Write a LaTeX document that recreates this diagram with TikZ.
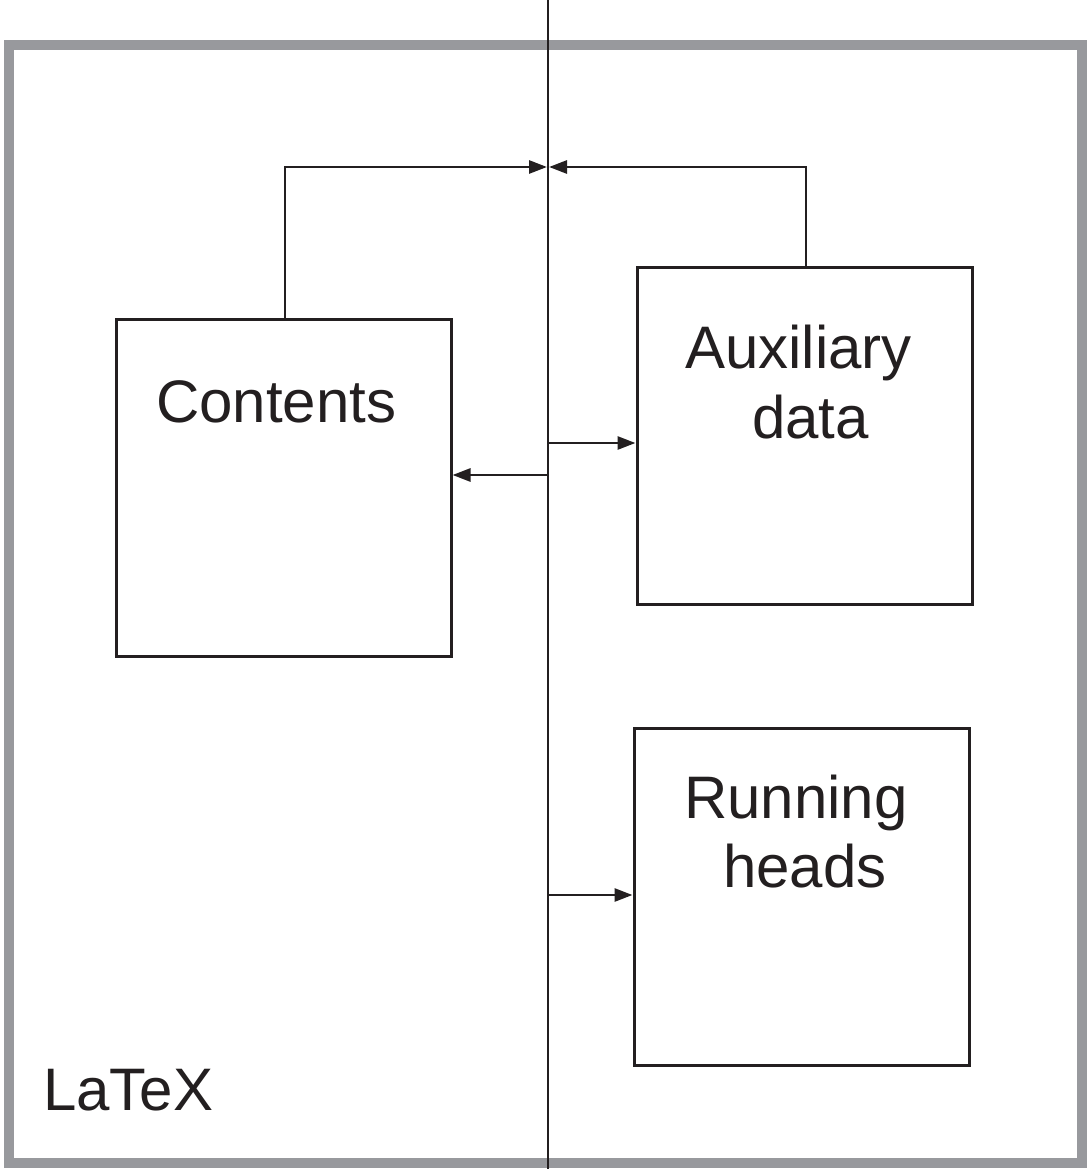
\documentclass[tikz,border=0pt]{standalone}
\usepackage{fontspec}
\setmainfont{Liberation Sans}
\usetikzlibrary{arrows.meta}
\definecolor{framegray}{RGB}{152,153,157}
\definecolor{ink}{RGB}{35,31,32}
\begin{document}
\begin{tikzpicture}[x=1pt,y=-1pt,
  boxnode/.style={draw=ink,line width=3pt,minimum width=335pt,minimum height=337pt,inner sep=0pt},
  lbl/.style={anchor=base west,inner sep=0pt,text=ink,font=\fontsize{60}{72}\selectfont},
  conn/.style={draw=ink,line width=2.8pt},
  arr/.style={conn,-{Triangle[length=18pt,width=13pt]}}]
\useasboundingbox (0,0) rectangle (1087,1169);
% outer frame
\draw[framegray,line width=10pt] (9,45) rectangle (1082,1163);
% vertical line
\coordinate (vtop) at (548,0);
\coordinate (vbot) at (548,1169);
\draw[conn] (vtop) -- (vbot);
% boxes
\node[boxnode] (contents) at (283.5,487.5) {};
\node[boxnode] (aux) at (804.5,435.5) {};
\node[boxnode] (run) at (801.5,896.5) {};
% labels
\node[lbl] (tcont) at (156,422) {Contents};
\node[lbl] (taux1) at (685,368) {Auxiliary};
\node[lbl] (taux2) at (752,438) {data};
\node[lbl] (trun1) at (684,818) {Running};
\node[lbl] (trun2) at (723,887) {heads};
\node[lbl] (tlatex) at (43,1110) {LaTeX};
% junction points on the vertical line
\coordinate (jtop) at (548,167);
\coordinate (jaux) at (548,443);
\coordinate (jcont) at (548,475);
\coordinate (jrun) at (548,895);
% connectors
\draw[arr] ([xshift=1.5pt]contents.north) |- ([xshift=-1pt]jtop);
\draw[arr] ([xshift=1.5pt]aux.north) |- ([xshift=1pt]jtop);
\draw[arr] (jaux) -- (aux.west |- jaux);
\draw[arr] (jcont) -- (contents.east |- jcont);
\draw[arr] (jrun) -- (run.west |- jrun);
\end{tikzpicture}
\end{document}
